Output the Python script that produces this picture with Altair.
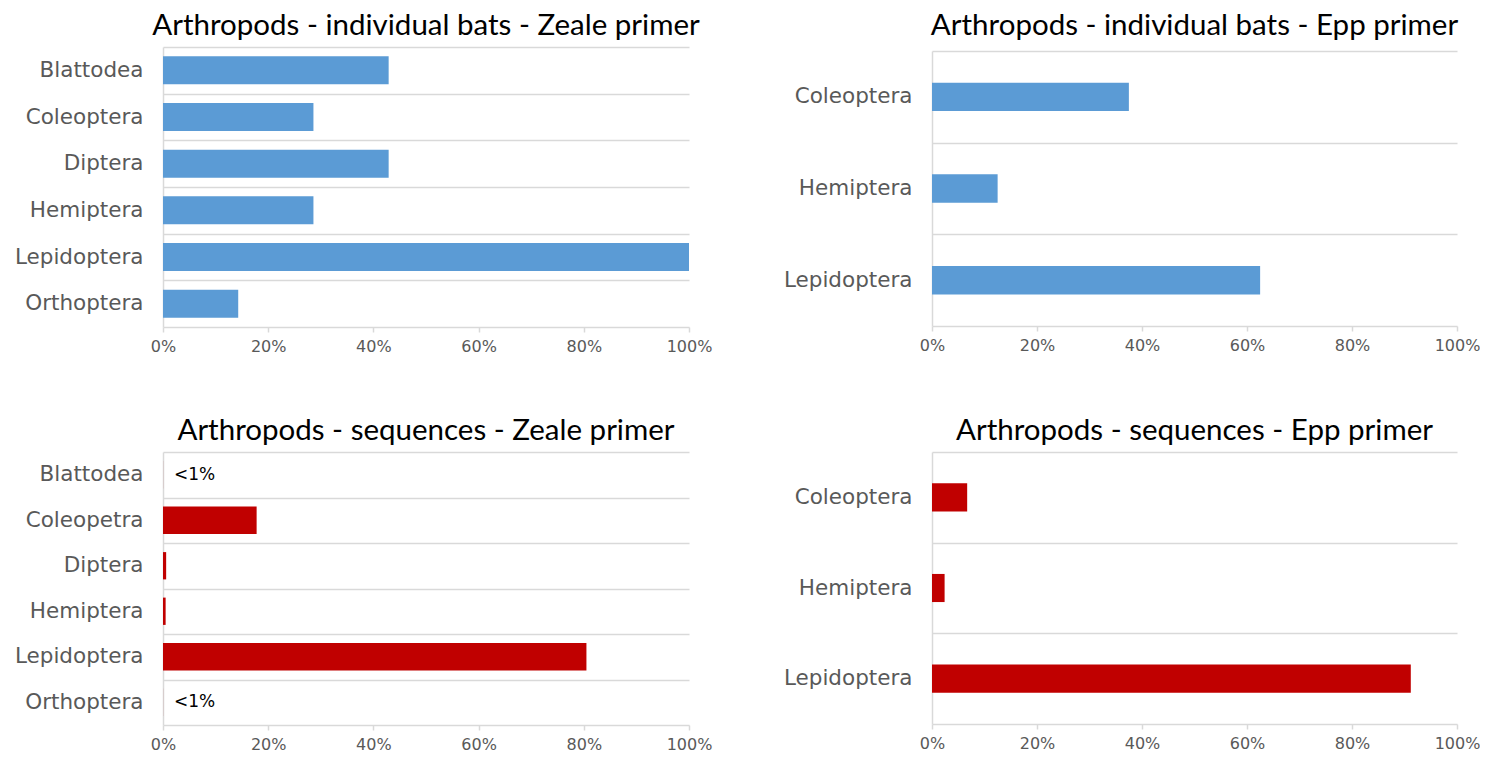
import altair as alt
import pandas as pd

# ---- data ----
zeale_bat_taxa = ["Blattodea", "Coleoptera", "Diptera", "Hemiptera", "Lepidoptera", "Orthoptera"]
zeale_bat_pct = [42.9, 28.6, 42.9, 28.6, 100.0, 14.3]

epp_bat_taxa = ["Coleoptera", "Hemiptera", "Lepidoptera"]
epp_bat_pct = [37.5, 12.5, 62.5]

zeale_seq_taxa = ["Blattodea", "Coleopetra", "Diptera", "Hemiptera", "Lepidoptera", "Orthoptera"]
zeale_seq_pct = [0.01, 17.8, 0.6, 0.5, 80.5, 0.01]

epp_seq_taxa = ["Coleoptera", "Hemiptera", "Lepidoptera"]
epp_seq_pct = [6.7, 2.4, 91.2]

note_taxa = ["Blattodea", "Orthoptera"]
note_labels = ["<1%", "<1%"]

x_tick_pct = [0, 20, 40, 60, 80, 100]

titles = [
    "Arthropods - individual bats - Zeale primer",
    "Arthropods - individual bats - Epp primer",
    "Arthropods - sequences - Zeale primer",
    "Arthropods - sequences - Epp primer",
]

BLUE = "#5B9BD5"
RED = "#C00000"
GRID = "#D9D9D9"
LABEL = "#595959"
TITLE_FONT = "Lato"
LABEL_FONT = "DejaVu Sans"


def panel(taxa, pct, color, title, w, h, band, notes=None, y_range=None):
    df = pd.DataFrame({"taxon": taxa, "share": [p / 100 for p in pct]})
    x = alt.X(
        "share:Q",
        scale=alt.Scale(domain=[0, 1], nice=False, zero=True),
        axis=alt.Axis(
            title=None, values=[t / 100 for t in x_tick_pct], format=".0%",
            grid=False, domain=False, ticks=True, tickSize=5, tickColor=GRID, tickWidth=1.5,
            labelFont=LABEL_FONT, labelFontSize=16, labelColor=LABEL, labelPadding=6,
            labelFlush=False,
        ),
    )
    if y_range is not None:
        yscale = alt.Scale(paddingInner=0, paddingOuter=0, range=y_range)
    else:
        yscale = alt.Scale(paddingInner=0, paddingOuter=0)
    y = alt.Y(
        "taxon:N", sort=taxa,
        scale=yscale,
        axis=alt.Axis(
            title=None, tickBand="extent", grid=True, gridColor=GRID, gridWidth=1.5,
            ticks=False, domain=True, domainColor=GRID, domainWidth=1.5,
            labelFont=LABEL_FONT, labelFontSize=21.5, labelColor=LABEL, labelPadding=20,
            minExtent=150, maxExtent=150,
        ),
    )
    bars = alt.Chart(df).mark_bar(color=color, height={"band": band}).encode(x=x, y=y)
    layers = [bars]
    if notes is not None:
        ndf = pd.DataFrame({"taxon": notes[0], "label": notes[1], "share": [0.0] * len(notes[0])})
        txt = alt.Chart(ndf).mark_text(
            align="left", baseline="middle", dx=11, font=LABEL_FONT, fontSize=17, color="black"
        ).encode(x=alt.X("share:Q"), y=alt.Y("taxon:N", sort=taxa), text="label:N")
        layers.append(txt)
    return alt.layer(*layers).properties(
        width=w, height=h,
        title=alt.TitleParams(
            title, font=TITLE_FONT, fontSize=29.5, fontWeight="normal", color="black",
            anchor="middle", offset=-5,
        ),
    )


p1 = panel(zeale_bat_taxa, zeale_bat_pct, BLUE, titles[0], 526, 280, 0.6)
p2 = panel(epp_bat_taxa, epp_bat_pct, BLUE, titles[1], 525, 279, 0.31, y_range=[4, 279])
p3 = panel(zeale_seq_taxa, zeale_seq_pct, RED, titles[2], 526, 273, 0.6, notes=(note_taxa, note_labels))
p4 = panel(epp_seq_taxa, epp_seq_pct, RED, titles[3], 525, 272, 0.31)

chart = alt.concat(p1, p2, p3, p4, columns=2).properties(
    spacing={"row": 125, "column": 243},
    bounds="flush",
    padding={"left": 5, "top": 2, "right": 0, "bottom": 0},
).configure_view(stroke=None)

chart.save("out.html", embed_options={"renderer": "svg", "actions": False})
